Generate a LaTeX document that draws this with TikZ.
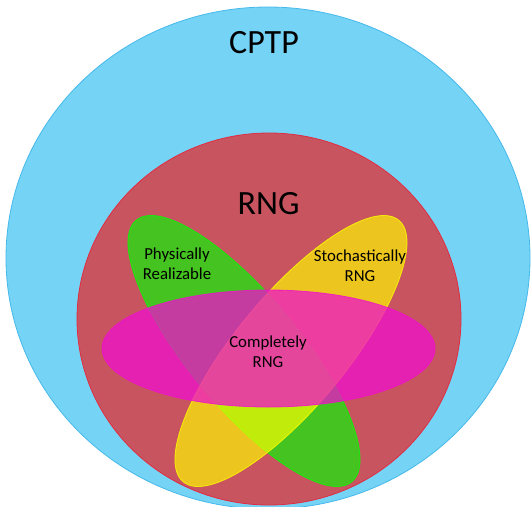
\documentclass[tikz,border=0pt]{standalone}
\usepackage{fontspec}
\setmainfont{Carlito}
\usepackage{xcolor}
\usepackage{tikz}

\definecolor{cptpblue}{RGB}{117,211,245}
\definecolor{cptpline}{RGB}{70,185,235}
\definecolor{rngred}{RGB}{200,84,96}
\definecolor{rngline}{RGB}{225,45,65}
\definecolor{physgreen}{RGB}{0,255,0}
\definecolor{stochyellow}{RGB}{255,255,0}
\definecolor{compmagenta}{RGB}{240,16,205}

\begin{document}
\begin{tikzpicture}[x=1pt, y=-1pt]

% Define styles
\tikzset{
    outerset/.style={fill=cptpblue, draw=cptpline, line width=0.8pt},
    innerset/.style={fill=rngred, draw=rngline, line width=0.8pt},
    petal/.style={fill=#1, fill opacity=0.65, draw=#1, draw opacity=0.8, line width=0.8pt},
    band/.style={fill=compmagenta, fill opacity=0.75, draw=compmagenta, draw opacity=0.8, line width=0.8pt},
    biglabel/.style={font=\fontsize{34}{40}\selectfont},
    setlabel/.style={font=\fontsize{16.8}{20}\selectfont, align=center}
}

% page size
\useasboundingbox (0,0) rectangle (532,506);

%centre of CPTP set
\coordinate (C0) at (268,258);

%centre of RNG set
\coordinate (R0) at (269,319);

%centres of the three subsets
\coordinate (P0) at (244,351);
\coordinate (S0) at (291,351);
\coordinate (K0) at (268.5,348.5);

% CPTP and RNG
\draw[outerset] (C0) ellipse [x radius=262, y radius=251];
\draw[innerset] (R0) ellipse [x radius=192, y radius=186];

% Tilted subsets
\draw[petal=physgreen, rotate around={-50.5:(P0)}] (P0) ellipse [x radius=169.5, y radius=55.6];
\draw[petal=stochyellow, fill opacity=0.67, rotate around={50.5:(S0)}] (S0) ellipse [x radius=169.5, y radius=55.6];

% Completely RNG
\draw[band] (K0) ellipse [x radius=166.5, y radius=58.5];

% Labels
\node[biglabel] (cptp) at (264,42.5) {CPTP};
\node[biglabel] (rng) at (268.5,204) {RNG};
\node[setlabel] (phys) at (177,264) {Physically\\Realizable};
\node[setlabel] (stoch) at (360,266) {Stochastically\\RNG};
\node[setlabel] (comp) at (268,352) {Completely\\RNG};

\end{tikzpicture}
\end{document}
